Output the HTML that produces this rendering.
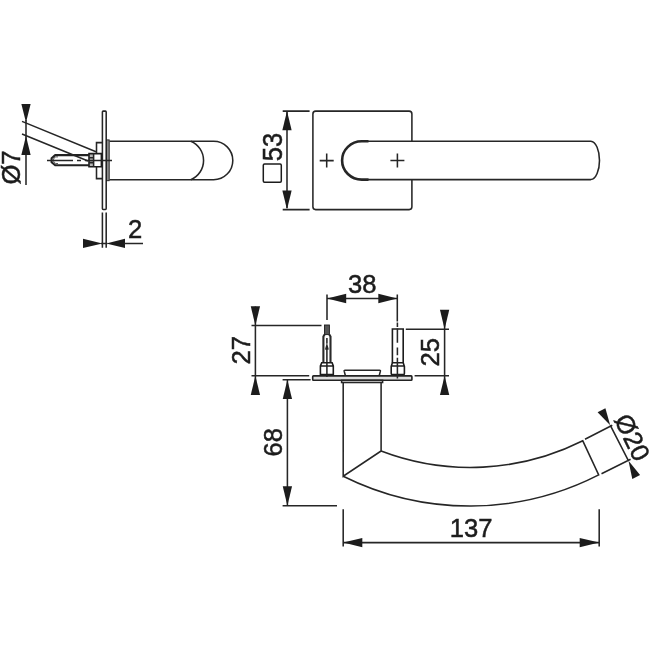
<!DOCTYPE html>
<html><head><meta charset="utf-8"><title>Drawing</title>
<style>
html,body{margin:0;padding:0;background:#fff;}
body{width:650px;height:650px;overflow:hidden;font-family:"Liberation Sans",sans-serif;}
svg{display:block;position:absolute;left:0;top:0;will-change:transform;}
.l{fill:none;stroke:#262626;stroke-width:1.55;}
.t{fill:none;stroke:#262626;stroke-width:2.6;}
.m{fill:none;stroke:#1c1c1c;stroke-width:1.7;}
.a{fill:#1c1c1c;stroke:none;}
text{font-family:"Liberation Sans",sans-serif;font-size:25.6px;fill:#1c1c1c;stroke:#1c1c1c;stroke-width:0.5px;}
</style></head><body>
<svg width="650" height="650" viewBox="0 0 650 650">
<rect x="0" y="0" width="650" height="650" fill="#ffffff"/>

<!-- ============ TOP-LEFT: side view ============ -->
<g id="side">
<rect class="l" x="102.4" y="111.1" width="3.8" height="98.3" rx="0.8"/>
<path class="l" d="M102.4,212.6V247.7M106.2,212.6V247.7"/>
<polygon class="a" points="102.4,243.4 83,238.75 83,248.05"/>
<polygon class="a" points="106.2,243.4 125,238.75 125,248.05"/>
<path class="l" d="M124,243.4H143M101,243.4H107.5"/>
<text x="128" y="238.3">2</text>
<!-- collar -->
<rect x="106.5" y="139.9" width="2.7" height="40.8" fill="#8a8a8a" stroke="#1c1c1c" stroke-width="0.9"/>
<!-- handle body -->
<path class="l" d="M109.6,141.2H213.6A19.2,19.25 0 0 1 213.6,179.7H109.6"/>
<path class="l" d="M190.8,141.2A20.9,20.9 0 0 1 190.8,179.7"/>
<!-- nut -->
<path class="l" d="M102,142.6H96.5V154M96.5,167V178.6H102"/>
<!-- screw head -->
<rect x="89" y="153.6" width="4.6" height="13.2" fill="#b5b5b5" stroke="none"/>
<path d="M89,153.6H101.4V166.8H89Z" fill="none" stroke="#1c1c1c" stroke-width="1.6"/>
<path class="l" d="M93.6,153.6V166.8M89,157.8H93.6M89,162.6H93.6"/>
<!-- screw shaft -->
<path d="M89,155.1H55.2L51.6,158.2V162.2L55.2,165.3H89" fill="none" stroke="#222" stroke-width="2.1" stroke-linejoin="round"/>
<path d="M58,156.9H55.8Q53.4,157.4 53.4,160.2Q53.4,163 55.8,163.5H58" fill="none" stroke="#333" stroke-width="0.8"/>
<!-- center line -->
<path class="l" d="M47,160.4H73M77,160.4H81M85,160.4H112"/>
<!-- leaders -->
<path class="l" d="M22,121.4L96,151.7M22,134L88,161"/>
<!-- dim line -->
<path class="l" d="M26,120V185"/>
<polygon class="a" points="26,122.5 21.35,104 30.65,104"/>
<polygon class="a" points="26,136 21.35,155 30.65,155"/>
<text transform="translate(19.7,184.6) rotate(-90)">Ø7</text>
</g>

<!-- ============ TOP-RIGHT: front view ============ -->
<g id="front">
<path class="l" d="M411.9,141.2V113.9Q411.9,111.1 409.1,111.1H315.7Q312.9,111.1 312.9,113.9V206.8Q312.9,209.6 315.7,209.6H409.1Q411.9,209.6 411.9,206.8V179.6"/>
<path class="t" d="M368.5,141.2H361.8A19.7,19.2 0 0 0 361.8,179.6H368.5"/>
<path class="l" d="M368,141.2H590.8C596,141.4 599.5,150.7 599.5,160.4C599.5,170.1 596,179.4 590.8,179.6H368"/>
<path class="l" d="M319.7,160.6H333.7M326.7,153.5V167.6M390.4,160.5H404.4M397.4,153.4V167.5"/>
<path class="l" d="M282.7,111.1H309.6M282.7,209.6H309.6M287,112V208"/>
<polygon class="a" points="287,111.1 282.35,130.2 291.65,130.2"/>
<polygon class="a" points="287,209.6 282.35,190.5 291.65,190.5"/>
<text transform="translate(281.8,161.2) rotate(-90) scale(1,1.05)">53</text>
<rect x="263.3" y="164.1" width="18" height="18.1" rx="1.2" fill="none" stroke="#1c1c1c" stroke-width="1.5"/>
</g>

<!-- ============ BOTTOM: top view ============ -->
<g id="plan">
<!-- dim 38 -->
<path class="l" d="M327,294.6V320M397.3,294.6V321.5M327,298.5H397.3"/>
<polygon class="a" points="327,298.5 346.2,293.85 346.2,303.15"/>
<polygon class="a" points="397.3,298.5 378.3,293.85 378.3,303.15"/>
<text x="362.2" y="293.4" text-anchor="middle">38</text>
<!-- dim 27 -->
<path class="l" d="M255.4,306.5V395M251.5,325.4H321.5M251.5,375.7H309.2"/>
<polygon class="a" points="255.4,325.4 250.75,306.2 260.05,306.2"/>
<polygon class="a" points="255.4,375.7 250.75,395 260.05,395"/>
<text transform="translate(249.5,364.6) rotate(-90)">27</text>
<!-- dim 25 -->
<path class="l" d="M444.6,310V395M405.8,329.2H449M414.6,375.7H449"/>
<polygon class="a" points="444.6,329.2 439.95,309.7 449.25,309.7"/>
<polygon class="a" points="444.6,375.7 439.95,395 449.25,395"/>
<text transform="translate(438.9,366.4) rotate(-90)">25</text>
<!-- dim 68 -->
<path class="l" d="M282.6,379.7H310.6M282.6,505.7H337M287.4,380V505"/>
<polygon class="a" points="287.4,379.7 282.75,399 292.05,399"/>
<polygon class="a" points="287.4,505.7 282.75,486.3 292.05,486.3"/>
<text transform="translate(281.5,456.4) rotate(-90)">68</text>
<!-- dim 137 -->
<path class="l" d="M343.2,509.2V546.6M599.2,509.2V546.6M343.2,542.6H599.2"/>
<polygon class="a" points="343.2,542.6 362.3,537.95 362.3,547.25"/>
<polygon class="a" points="599.2,542.6 579.7,537.95 579.7,547.25"/>
<text x="471.2" y="536.9" text-anchor="middle">137</text>
<!-- plate -->
<rect x="312.7" y="375.9" width="99.2" height="4.4" rx="0.8" fill="#dcdcdc" stroke="#222" stroke-width="1.6"/>
<path class="l" d="M345.4,375.8L344.2,371.2Q344,370.2 345,370.2H379.6Q380.6,370.2 380.4,371.2L379.2,375.8"/>
<rect class="l" x="341.6" y="380.3" width="41" height="2.2"/>
<!-- neck + handle -->
<path class="l" d="M343.2,382.5V476.2L381.1,451V382.5"/>
<path class="l" d="M381.1,451A250.6,250.6 0 0 0 582.8,440.8L598.7,474.9A283.5,283.5 0 0 1 343.2,476.2"/>
<!-- Ø20 dim -->
<path class="l" d="M585,439.2L612.3,425.2M601.5,473.7L630.6,459.3M610.2,425.2L628.5,460.8"/>
<polygon class="a" points="610.2,425.2 597.6,412.2 605.4,408.2"/>
<polygon class="a" points="628.5,460.8 640.1,475 632.3,479"/>
<text transform="translate(624.4,441.3) rotate(64)" text-anchor="middle">Ø20</text>
<!-- left screw -->
<rect x="324.5" y="325" width="4.9" height="9.6" fill="#555" stroke="#1c1c1c" stroke-width="0.9"/>
<path d="M324.6,334.4L323.4,336.6V362.6M329.3,334.4L330.5,336.6V362.6" fill="none" stroke="#2a2a2a" stroke-width="2.1"/>
<path class="l" d="M326.9,338V343.6M325.7,349.6L326.9,345.4L328.1,349.6M326.9,347.5V377"/>
<path d="M320.4,374.6V366L321.7,362.8H332.1L333.3,366V374.6ZM320.4,366H333.3" fill="none" stroke="#1c1c1c" stroke-width="1.6"/>
<!-- right sleeve -->
<path d="M392.4,362.7V329H403.2V362.7" fill="none" stroke="#1c1c1c" stroke-width="1.6"/>
<path d="M391.2,373.4V366.4L392.4,362.8H403.2L404.4,366.4V373.4Q404.4,374.6 403.2,374.6H392.4Q391.2,374.6 391.2,373.4ZM391.2,366H404.4" fill="none" stroke="#1c1c1c" stroke-width="1.6"/>
<path class="l" d="M397.4,322.6V327M397.4,328.4V342.8M397.4,347.6V355.2M397.4,357.8V378.4"/>
</g>
</svg>
</body></html>
